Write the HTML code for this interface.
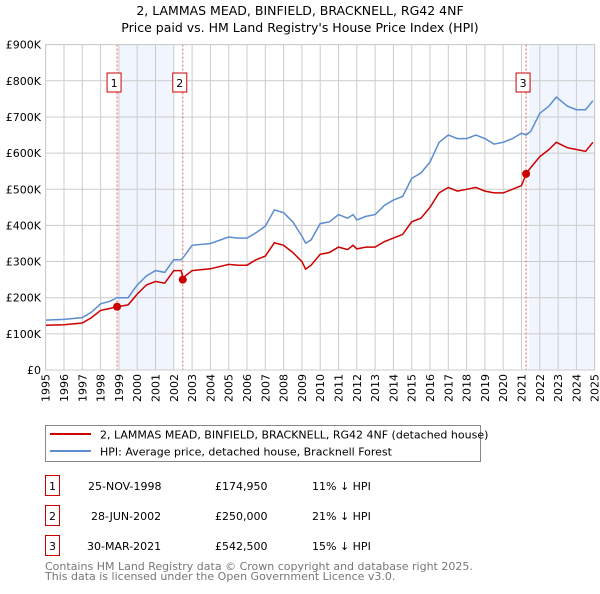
<!DOCTYPE html>
<html><head><meta charset="utf-8"><style>
body{margin:0;background:#fff;font-family:"DejaVu Sans","Liberation Sans",sans-serif;}
svg text{font-family:"DejaVu Sans","Liberation Sans",sans-serif;}
</style></head><body>
<svg id="c" width="600" height="590" viewBox="0 0 600 590" xmlns="http://www.w3.org/2000/svg">
<text x="300" y="15" font-size="12.5" text-anchor="middle">2, LAMMAS MEAD, BINFIELD, BRACKNELL, RG42 4NF</text>
<text x="300" y="32" font-size="12.5" text-anchor="middle">Price paid vs. HM Land Registry's House Price Index (HPI)</text>
<g id="grid"></g><g id="marks"></g>
<rect x="45.5" y="44.5" width="549" height="325.5" fill="none" stroke="#ccc"/>
<g>
<rect x="45.5" y="425.5" width="435" height="36" fill="#fff" stroke="#888"/>
<line x1="50" y1="434" x2="91" y2="434" stroke="#cc0000" stroke-width="2"/>
<text x="100" y="438.5" font-size="11">2, LAMMAS MEAD, BINFIELD, BRACKNELL, RG42 4NF (detached house)</text>
<line x1="50" y1="451" x2="91" y2="451" stroke="#5b8dd0" stroke-width="2"/>
<text x="100" y="455.5" font-size="11">HPI: Average price, detached house, Bracknell Forest</text>
</g>
<g font-size="11">
<rect x="45.5" y="475.5" width="14" height="20" fill="#fff" stroke="#cc0000"/><text x="52.5" y="490" text-anchor="middle">1</text>
<text x="88" y="490">25-NOV-1998</text><text x="215" y="490">£174,950</text><text x="312" y="490">11% ↓ HPI</text>
<rect x="45.5" y="505.5" width="14" height="20" fill="#fff" stroke="#cc0000"/><text x="52.5" y="520" text-anchor="middle">2</text>
<text x="91" y="520">28-JUN-2002</text><text x="215" y="520">£250,000</text><text x="312" y="520">21% ↓ HPI</text>
<rect x="45.5" y="535.5" width="14" height="20" fill="#fff" stroke="#cc0000"/><text x="52.5" y="550" text-anchor="middle">3</text>
<text x="87" y="550">30-MAR-2021</text><text x="215" y="550">£542,500</text><text x="312" y="550">15% ↓ HPI</text>
</g>
<text x="45" y="570" font-size="11" fill="#777">Contains HM Land Registry data © Crown copyright and database right 2025.</text>
<text x="45" y="580" font-size="11" fill="#777">This data is licensed under the Open Government Licence v3.0.</text>
</svg>
<script>
const hpiYears=[1995,1996,1997,1997.5,1998,1998.5,1998.9,1999.5,2000,2000.5,2001,2001.5,2002,2002.4,2002.5,2003,2004,2005,2005.5,2006,2006.5,2007,2007.5,2008,2008.5,2009,2009.2,2009.5,2010,2010.5,2011,2011.5,2011.8,2012,2012.5,2013,2013.5,2014,2014.5,2015,2015.5,2016,2016.5,2017,2017.5,2018,2018.5,2019,2019.5,2020,2020.5,2021,2021.25,2021.5,2022,2022.5,2022.9,2023.5,2024,2024.5,2024.9];
const hpiValues=[138,140,145,160,183,190,200,200,235,260,275,270,305,305,310,345,350,368,365,365,380,398,443,435,410,370,351,360,405,410,430,420,430,415,425,430,455,470,480,530,545,575,630,650,640,640,650,640,625,630,640,655,650,660,710,730,755,730,720,720,745];
const priceValues=[124,125,130,145,165,170,175,180,210,235,245,240,275,275,255,275,280,292,290,290,305,315,352,345,325,300,279,290,320,325,340,333,345,335,340,340,355,365,375,410,420,450,490,505,495,500,505,495,490,490,500,510,542.5,560,590,610,630,615,610,605,630];
const saleYears=[1998.9,2002.49,2021.25];
const saleValues=[174.95,250,542.5];
const saleLabels=["1","2","3"];
const shadeStarts=[1999,2021.4];
const shadeEnds=[2002,2025];
const yTicks=[0,100,200,300,400,500,600,700,800,900];
const yTickLabels=["£0","£100K","£200K","£300K","£400K","£500K","£600K","£700K","£800K","£900K"];
const xTicks=[];for(let y=1995;y<=2025;y++)xTicks.push(y);
const X=y=>45.7+(y-1995)*18.3;
const Y=v=>370-v*0.3615;
const NS="http://www.w3.org/2000/svg";
const grid=document.getElementById('grid'),marks=document.getElementById('marks');
function mk(tag,attrs,parent){const e=document.createElementNS(NS,tag);for(const k in attrs)e.setAttribute(k,attrs[k]);parent.appendChild(e);return e;}
shadeStarts.forEach((s,i)=>{
 const r=mk('rect',{x:X(s),y:44.5,width:Math.min(X(shadeEnds[i]),594.5)-X(s),height:325.5,fill:'#eef3fc',opacity:0.8},grid);
 
 
});
yTicks.forEach((v,i)=>{
 const l=mk('line',{x1:45.5,x2:594.5,y1:Y(v),y2:Y(v),stroke:'#ccc'},grid);
 
 
 const t=mk('text',{x:41,y:Y(v)+4,'font-size':11,'text-anchor':'end'},grid);t.textContent=yTickLabels[i];
 
 
});
xTicks.forEach(y=>{
 const l=mk('line',{x1:X(y),x2:X(y),y1:44.5,y2:370,stroke:'#ccc'},grid);
 
 
 const t=mk('text',{x:0,y:0,'font-size':11,'text-anchor':'end',transform:`translate(${X(y)+4},374) rotate(-90)`},grid);t.textContent=y;
 
 
});
saleYears.forEach((y,i)=>{
 const l=mk('line',{x1:X(y),x2:X(y),y1:44.5,y2:370,stroke:'#e06060','stroke-dasharray':'2,2'},marks);
 
 
});
const pts=(vals)=>hpiYears.map((y,i)=>X(y).toFixed(1)+','+Y(vals[i]).toFixed(1)).join(' ');
const hl=mk('polyline',{points:pts(hpiValues),fill:'none',stroke:'#5b8dd0','stroke-width':1.5},marks);


const pl=mk('polyline',{points:pts(priceValues),fill:'none',stroke:'#cc0000','stroke-width':1.5},marks);


saleYears.forEach((y,i)=>{
 const c=mk('circle',{cx:X(y),cy:Y(saleValues[i]),r:4,fill:'#cc0000'},marks);
 
 
 const r=mk('rect',{x:X(y)-10,y:73,width:14,height:19,fill:'#fff',stroke:'#cc0000'},marks);
 
 
 const t=mk('text',{x:X(y)-3,y:87,'font-size':11,'text-anchor':'middle'},marks);t.textContent=saleLabels[i];
 
 
});
</script>
</body></html>
